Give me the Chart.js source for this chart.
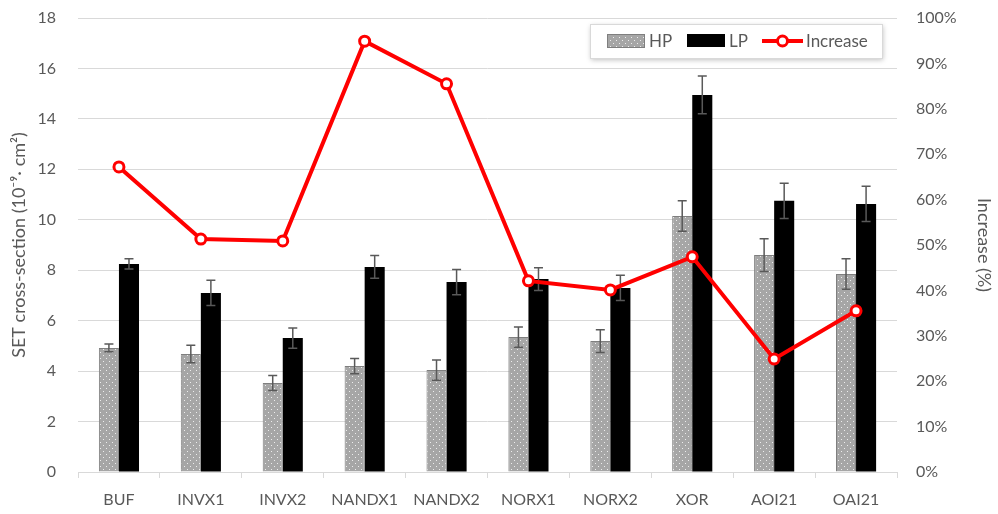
<!DOCTYPE html>
<html>
<head>
<meta charset="utf-8">
<script src="https://cdn.jsdelivr.net/npm/chart.js@4"></script>
<style>
html,body{margin:0;padding:0;background:#fff;}
#wrap{width:998px;height:514px;position:relative;}
</style>
</head>
<body>
<div id="wrap"><canvas id="c" width="998" height="514"></canvas></div>
<script>
const categories = ["BUF","INVX1","INVX2","NANDX1","NANDX2","NORX1","NORX2","XOR","AOI21","OAI21"];
const hpValues = [4.92, 4.68, 3.53, 4.2, 4.04, 5.35, 5.19, 10.15, 8.6, 7.85];
const hpErrors = [0.15, 0.35, 0.3, 0.3, 0.4, 0.4, 0.45, 0.6, 0.65, 0.6];
const lpValues = [8.25, 7.1, 5.31, 8.13, 7.53, 7.65, 7.3, 14.95, 10.75, 10.63];
const lpErrors = [0.2, 0.5, 0.4, 0.45, 0.5, 0.45, 0.5, 0.75, 0.7, 0.7];
const increaseValues = [67.2, 51.3, 50.9, 94.9, 85.5, 42.1, 40.1, 47.4, 24.9, 35.5];
const leftTicks = [0,2,4,6,8,10,12,14,16,18];
const rightTicks = [0,10,20,30,40,50,60,70,80,90,100];

const FONT = "Lato, 'Open Sans', sans-serif";
const TXT = "#595959";

function makePattern(){
  const p = document.createElement('canvas');
  p.width = 6; p.height = 6;
  const g = p.getContext('2d');
  g.fillStyle = '#a6a6a6'; g.fillRect(0,0,6,6);
  g.fillStyle = 'rgba(255,255,255,0.8)';
  g.fillRect(1,1,1,1);
  g.fillRect(4,4,1,1);
  return g.createPattern(p,'repeat');
}
const hpPattern = makePattern();

const errorBarPlugin = {
  id: 'errorBars',
  afterDatasetDraw(chart, args){
    const ds = chart.data.datasets[args.index];
    if (!ds.errors) return;
    const meta = args.meta;
    const y = chart.scales.y;
    const ctx = chart.ctx;
    ctx.save();
    ctx.strokeStyle = '#595959';
    ctx.lineWidth = 1.5;
    meta.data.forEach((bar, i) => {
      const v = ds.data[i], e = ds.errors[i];
      const yt = y.getPixelForValue(v + e), yb = y.getPixelForValue(v - e);
      const x = bar.x;
      ctx.beginPath();
      ctx.moveTo(x, yt); ctx.lineTo(x, yb);
      ctx.moveTo(x-4.5, yt); ctx.lineTo(x+4.5, yt);
      ctx.moveTo(x-4.5, yb); ctx.lineTo(x+4.5, yb);
      ctx.stroke();
    });
    ctx.restore();
  }
};

const legendPlugin = {
  id: 'customLegend',
  afterDraw(chart){
    const ctx = chart.ctx;
    ctx.save();
    const bx = 590, by = 24, bw = 292, bh = 34;
    ctx.shadowColor = 'rgba(0,0,0,0.25)';
    ctx.shadowBlur = 5; ctx.shadowOffsetX = 1; ctx.shadowOffsetY = 2;
    ctx.fillStyle = '#fff';
    ctx.fillRect(bx, by, bw, bh);
    ctx.shadowColor = 'transparent';
    ctx.strokeStyle = '#d9d9d9'; ctx.lineWidth = 1;
    ctx.strokeRect(bx+0.5, by+0.5, bw, bh);
    const cy = by + bh/2;
    ctx.fillStyle = hpPattern; ctx.fillRect(607, 34, 37, 13);
    ctx.strokeStyle = '#7f7f7f'; ctx.strokeRect(607.5, 34.5, 37, 13);
    ctx.fillStyle = '#000'; ctx.fillRect(687, 34, 38, 13);
    ctx.strokeStyle = '#ff0000'; ctx.lineWidth = 4;
    ctx.beginPath(); ctx.moveTo(762, cy); ctx.lineTo(803, cy); ctx.stroke();
    ctx.fillStyle = '#fff'; ctx.lineWidth = 3;
    ctx.beginPath(); ctx.arc(782.5, cy, 5, 0, Math.PI*2); ctx.fill(); ctx.stroke();
    ctx.fillStyle = TXT; ctx.font = "17px " + FONT; ctx.textBaseline = 'middle';
    ctx.fillText('HP', 649, cy+1);
    ctx.fillText('LP', 729, cy+1);
    ctx.fillText('Increase', 806, cy+1);
    ctx.restore();
  }
};

new Chart(document.getElementById('c'), {
  type: 'bar',
  data: {
    labels: categories,
    datasets: [
      { label: 'Increase', type: 'line', data: increaseValues, yAxisID: 'y2',
        borderColor: '#ff0000', borderWidth: 4, pointRadius: 5, pointBorderWidth: 3,
        pointBackgroundColor: '#fff', pointBorderColor: '#ff0000', tension: 0, order: 1 },
      { label: 'HP', data: hpValues, errors: hpErrors, yAxisID: 'y',
        backgroundColor: hpPattern, borderColor: '#7f7f7f', borderWidth: 1, order: 2 },
      { label: 'LP', data: lpValues, errors: lpErrors, yAxisID: 'y',
        backgroundColor: '#000', borderColor: '#000', borderWidth: 0, order: 2 }
    ]
  },
  options: {
    responsive: false,
    animation: false,
    events: [],
    layout: { padding: { top: 18, left: 0, right: 0, bottom: 0 } },
    datasets: { bar: { barPercentage: 1, categoryPercentage: 0.49 } },
    plugins: { legend: { display: false }, tooltip: { enabled: false } },
    scales: {
      x: {
        offset: true,
        grid: { offset: true, drawOnChartArea: false, drawTicks: true, tickLength: 6, color: '#d9d9d9' },
        border: { color: '#d9d9d9' },
        ticks: { color: TXT, font: { size: 16, family: FONT }, padding: 12, maxRotation: 0, autoSkip: false },
        afterFit(s){ s.height = 42; s.paddingLeft = 0; s.paddingRight = 0; }
      },
      y: {
        position: 'left', min: 0, max: 18,
        afterBuildTicks(s){ s.ticks = leftTicks.map(v => ({value: v})); },
        grid: { color: '#d9d9d9', drawTicks: false },
        border: { display: false },
        ticks: { color: TXT, font: { size: 16, family: FONT }, padding: 22 },
        title: { display: true, text: 'SET cross-section (10⁻⁹· cm²)', color: TXT, font: { size: 18, family: FONT }, padding: { top: 8, bottom: 0 } },
        afterFit(s){ s.width = 78; s.paddingTop = 0; s.paddingBottom = 0; }
      },
      y2: {
        position: 'right', min: 0, max: 100,
        afterBuildTicks(s){ s.ticks = rightTicks.map(v => ({value: v})); },
        grid: { drawOnChartArea: false, drawTicks: false },
        border: { display: false },
        ticks: { color: TXT, font: { size: 16, family: FONT }, padding: 19, callback: v => v + '%' },
        title: { display: true, text: 'Increase (%)', color: TXT, font: { size: 18, family: FONT }, padding: { top: 3, bottom: 0 } },
        afterFit(s){ s.width = 101; s.paddingTop = 0; s.paddingBottom = 0; }
      }
    }
  },
  plugins: [errorBarPlugin, legendPlugin]
});
</script>
</body>
</html>
